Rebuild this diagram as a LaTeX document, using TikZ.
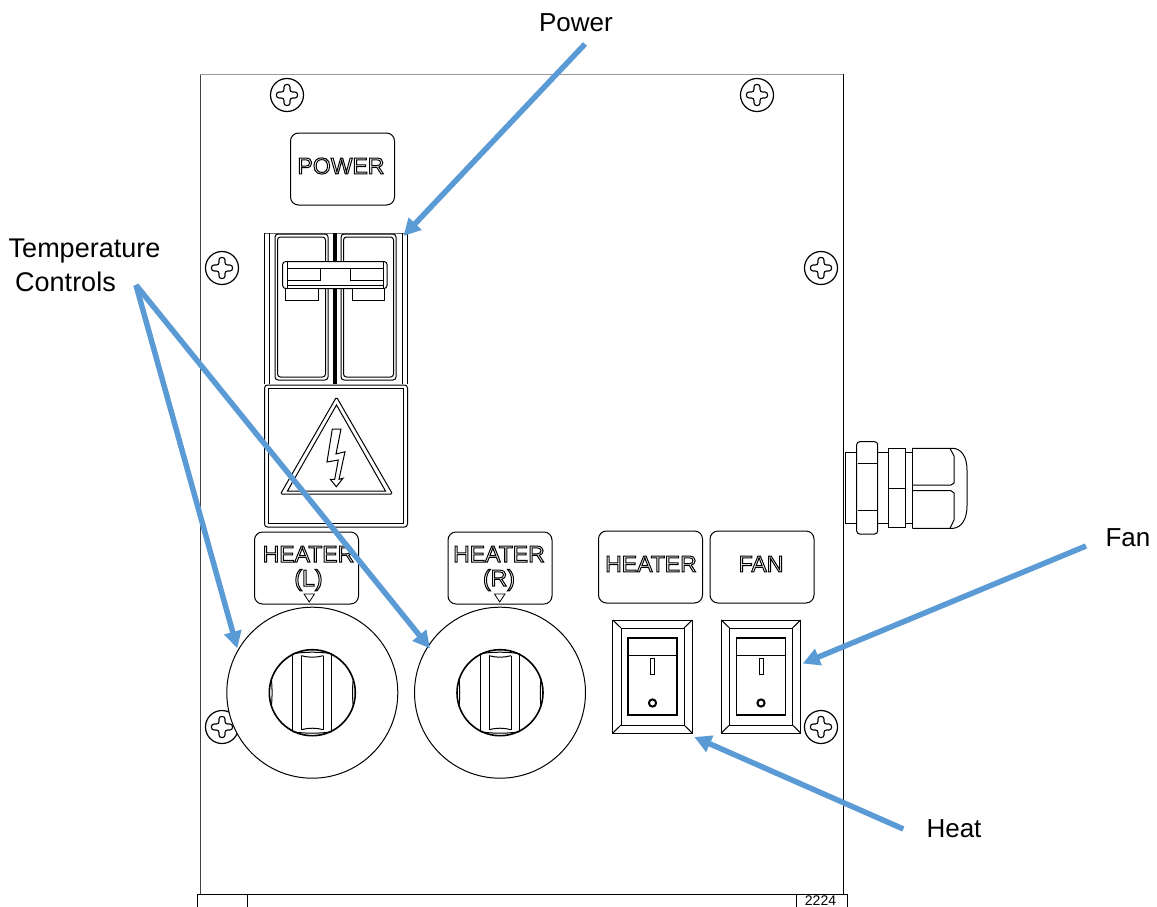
\documentclass[tikz,border=0pt]{standalone}
\usepackage{fontspec}
\setmainfont{Liberation Sans}
\usetikzlibrary{arrows.meta}
\definecolor{pointerblue}{HTML}{5B9BD5}
\newcommand{\outlinetext}[1]{\special{pdf:code 1 Tr 1 w}#1\special{pdf:code 0 Tr}}
\tikzset{
  pointer/.style={line width=5.5, pointerblue, -{Triangle[length=17pt,width=17pt]}},
  calltext/.style={inner sep=0, font=\fontsize{26pt}{30pt}\selectfont},
  tagbox/.style={draw, line width=1, rounded corners=8, inner sep=0, outer sep=0, minimum width=104, minimum height=72},
  tagtext/.style={inner sep=0, align=center, font=\fontsize{23pt}{24pt}\selectfont},
  knobring/.style={draw, circle, line width=1, fill=white, inner sep=0, outer sep=0, minimum size=171},
  rockerframe/.style={draw, line width=1, inner sep=0, outer sep=0, minimum width=79.5, minimum height=113},
  screwhead/.pic={
    \draw [line width=1.2, fill=white] (0,0) circle (16.5);
    \draw [line width=1.1, rounded corners=2.5] (-3,-10.5) -- (3,-10.5) -- (3,-3) -- (10.5,-3) -- (10.5,3) -- (3,3) -- (3,10.5) -- (-3,10.5) -- (-3,3) -- (-10.5,3) -- (-10.5,-3) -- (-3,-3) -- cycle;
  },
  knobgrip/.pic={
    \draw [line width=1.6] (0,0) circle (43);
    \draw [line width=1] (-19.5,-39) -- (-19.5,39);
    \draw [line width=1] (19.5,-39) -- (19.5,39);
    \draw [line width=1] (-11,-37) -- (-11,37);
    \draw [line width=1] (11,-37) -- (11,37);
    \draw [line width=1] (-19.5,-39) .. controls (-8,-41) and (8,-41) .. (19.5,-39);
    \draw [line width=1] (-11,-37) .. controls (-4,-35) and (4,-35) .. (11,-37);
    \draw [line width=1] (-19.5,39) .. controls (-8,41) and (8,41) .. (19.5,39);
    \draw [line width=1] (-11,37) .. controls (-4,35) and (4,35) .. (11,37);
    \draw [line width=1] (-41,-14) .. controls (-40,-5) and (-40,5) .. (-41,14);
    \draw [line width=1] (41,-14) .. controls (40,-5) and (40,5) .. (41,14);
  },
  rockerface/.pic={
    \draw [line width=1] (-31.5,-48.5) rectangle (31.5,48.5);
    \draw [line width=1] (-39.7,-56.5) -- (-31.5,-48.5);
    \draw [line width=1] (39.7,-56.5) -- (31.5,-48.5);
    \draw [line width=1] (-39.7,56.5) -- (-31.5,48.5);
    \draw [line width=1] (39.7,56.5) -- (31.5,48.5);
    \draw [line width=1.5] (-24.5,-38.5) rectangle (24.5,38.5);
    \draw [line width=1] (-24.5,-21.5) -- (24.5,-21.5);
    \draw [line width=1] (-2,-18.5) rectangle (2,-2.5);
    \draw [line width=2] (0,26.5) circle (3.6);
  }
}
\begin{document}
\begin{tikzpicture}[x=1pt,y=-1pt]
  \useasboundingbox (0,0) rectangle (1157,907);
  % panel
  \draw [line width=1, black!75] (200,894) -- (200,74);
  \draw [line width=1, black] (843,74) -- (843,894);
  \draw [line width=0.6, black!40] (200,74) -- (843,74);
  % bottom strip
  \draw [line width=1, black] (197,907) -- (197,894) -- (847,894) -- (847,907);
  \draw [line width=1, black] (247,894) -- (247,907);
  \draw [line width=1, black] (796,894) -- (796,907);
  \node [inner sep=0, font=\fontsize{14pt}{14pt}\selectfont] (partnumber) at (820.5,901) {2224};
  % screws
  \pic at (287,95) {screwhead};
  \pic at (757,95) {screwhead};
  \pic at (222,268) {screwhead};
  \pic at (821,268) {screwhead};
  \pic at (222,727) {screwhead};
  \pic at (821,727) {screwhead};
  % tags
  \node [tagbox] (tagpower) at (342.5,169) {};
  \node [tagtext] (textpower) at (341,166) {\outlinetext{POWER}};
  \node [tagbox] (tagheatl) at (306.5,568) {};
  \node [tagtext] (textheatl) at (308.5,568.5) {\outlinetext{HEATER}\\\outlinetext{(L)}};
  \node [tagbox] (tagheatr) at (500,568) {};
  \node [tagtext] (textheatr) at (499,568.5) {\outlinetext{HEATER}\\\outlinetext{(R)}};
  \node [tagbox] (tagheat) at (650.5,567) {};
  \node [tagtext] (textheat) at (651,564) {\outlinetext{HEATER}};
  \node [tagbox] (tagfan) at (762,567) {};
  \node [tagtext] (textfan) at (761,564) {\outlinetext{FAN}};
  \draw [line width=0.8] (304,594) -- (314.5,594) -- (309.2,602) -- cycle;
  \draw [line width=0.8] (494.5,594) -- (505,594) -- (499.7,602) -- cycle;
  % breaker rails
  \node [inner sep=0, outer sep=0, minimum width=143, minimum height=151] (breaker) at (336,308.5) {};
  \draw [line width=1] (264.5,384) -- (264.5,233);
  \draw [line width=1] (407.5,233) -- (407.5,384);
  \draw [line width=0.8, black!60] (264.5,233) -- (407.5,233);
  \draw [line width=1] (269,384) -- (269,233);
  \draw [line width=1] (402.5,384) -- (402.5,233);
  \draw [line width=3.5] (335,233) -- (335,384);
  % breaker paddles
  \draw [line width=1, rounded corners=3] (275,234) rectangle (328,380);
  \draw [line width=1, rounded corners=3] (277.5,237) rectangle (325.5,377);
  \draw [line width=1, rounded corners=3] (341,234) rectangle (396,380);
  \draw [line width=1, rounded corners=3] (343.5,237) rectangle (393.5,377);
  \draw [line width=1, rounded corners=3, fill=white] (282.7,261.5) rectangle (387,288.5);
  \draw [line width=1] (287,268) -- (383,268);
  \draw [line width=1] (287,285) -- (383,285);
  \draw [line width=1] (287,261.5) -- (287,288.5);
  \draw [line width=1] (383,261.5) -- (383,288.5);
  \draw [line width=1] (287,268) rectangle (320.3,280.5);
  \draw [line width=1] (350.3,268) rectangle (383,280.5);
  \draw [line width=1, fill=white] (285.5,288.5) rectangle (318,300.5);
  \draw [line width=1, fill=white] (352,288.5) rectangle (384.5,300.5);
  % warning plate
  \draw [line width=1, rounded corners=3] (264.5,385) rectangle (407.5,527);
  \draw [line width=1] (268.5,388.5) rectangle (403.5,523.5);
  \draw [line width=1, rounded corners=1.5] (336.5,397) -- (392.5,494) -- (280.5,494) -- cycle;
  \draw [line width=1] (336.5,405) -- (385.5,491) -- (287.5,491) -- cycle;
  \draw [line width=1] (332.3,429) -- (341,429) -- (336,454) -- (345,451.7) -- (339,479.3) -- (343,478.3) -- (336.3,486.7) -- (330.3,479.3) -- (334.7,479.3) -- (338.3,460) -- (327,462) -- cycle;
  % knobs
  \node [knobring] (knobl) at (312.3,692.7) {};
  \pic at (knobl) {knobgrip};
  \node [knobring] (knobr) at (500,692.7) {};
  \pic at (knobr) {knobgrip};
  % rocker switches
  \node [rockerframe] (rockerheat) at (652.5,676.5) {};
  \pic at (rockerheat) {rockerface};
  \node [rockerframe] (rockerfan) at (761,676.5) {};
  \pic at (rockerfan) {rockerface};
  % cable gland
  \draw [line width=1] (856.7,452.7) -- (845,452.7) -- (845,523) -- (856.7,523);
  \draw [line width=1, rounded corners=3] (856.7,441.7) rectangle (877.7,534);
  \draw [line width=1] (857.5,463) -- (877.7,463);
  \draw [line width=1] (857.5,510.7) -- (877.7,510.7);
  \draw [line width=1] (877.7,452.7) -- (888.3,452.7);
  \draw [line width=1] (877.7,523) -- (888.3,523);
  \draw [line width=1] (888.3,448.3) rectangle (905.7,527.3);
  \draw [line width=1] (888.3,488.3) -- (905.7,488.3);
  \draw [line width=1] (905.7,452.7) -- (912.3,452.7);
  \draw [line width=1] (905.7,523) -- (912.3,523);
  \draw [line width=1] (950,448.3) -- (954,456) -- (954,483) -- (951,485) -- (912.3,485);
  \draw [line width=1] (950,528.3) -- (954,520) -- (954,493) -- (951,490.7) -- (912.3,490.7);
  \draw [line width=1] (912.3,448.3) -- (912.3,528.3);
  \draw [line width=1] (912.3,448.3) -- (953.3,448.3) .. controls (961,449) and (967,456) .. (967,470) -- (967,506) .. controls (967,520) and (961,527.5) .. (953.3,528.3) -- (912.3,528.3);
  % labels
  \node [calltext] (labelpower) at (576,23) {Power};
  \node [calltext, font=\fontsize{27pt}{30pt}\selectfont] (labeltempa) at (84.5,251) {Temperature};
  \node [calltext, font=\fontsize{27pt}{30pt}\selectfont] (labeltempb) at (65.5,282) {Controls};
  \node [calltext] (labelfan) at (1128,538) {Fan};
  \node [calltext] (labelheat) at (954,829) {Heat};
  % pointers
  \draw [pointer] ([shift={(9pt,-21pt)}]labelpower.center) -- ([shift={(-4pt,-3pt)}]breaker.north east);
  \draw [pointer] ([shift={(20pt,-3pt)}]labeltempb.east) -- ([shift={(-2.5pt,-1pt)}]knobl.148);
  \draw [pointer] ([shift={(20pt,-3pt)}]labeltempb.east) -- ([shift={(2.5pt,-1pt)}]knobr.148);
  \draw [pointer] ([shift={(-42pt,-8pt)}]labelfan.center) -- ([shift={(2pt,13pt)}]rockerfan.east);
  \draw [pointer] ([shift={(-23pt,0pt)}]labelheat.west) -- ([shift={(2pt,-4pt)}]rockerheat.south east);
\end{tikzpicture}
\end{document}
